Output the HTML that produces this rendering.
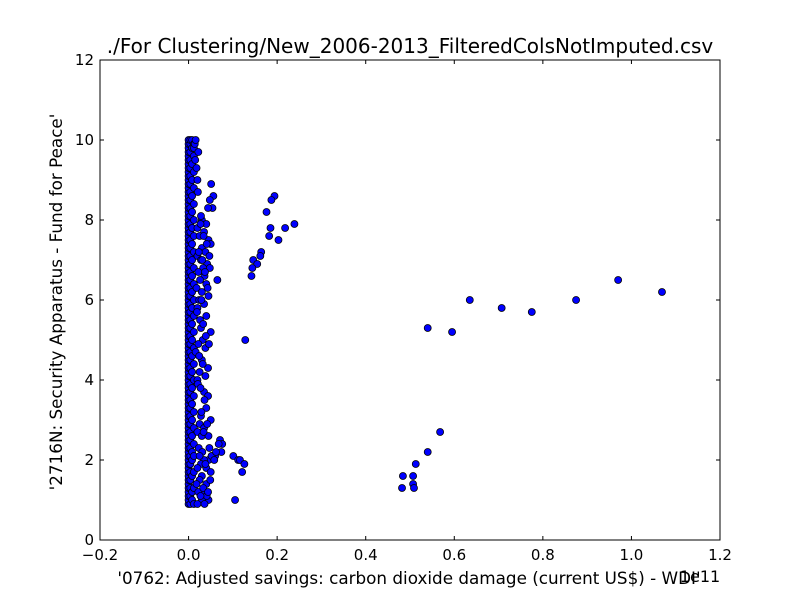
<!DOCTYPE html>
<html><head><meta charset="utf-8"><style>
body{margin:0;background:#fff;}
svg{font-family:"DejaVu Sans","Liberation Sans",sans-serif;}
</style></head><body>
<svg id="chart" width="800" height="600">
<rect width="800" height="600" fill="#fff"/>
<text x="410" y="53" text-anchor="middle" font-size="20">./For Clustering/New_2006-2013_FilteredColsNotImputed.csv</text>
<text x="409" y="584" text-anchor="middle" font-size="16.8">'0762: Adjusted savings: carbon dioxide damage  (current US$) - WDI'</text>
<text x="700" y="582" text-anchor="middle" font-size="16">1e11</text>
<text transform="translate(62,302) rotate(-90)" text-anchor="middle" font-size="16.8">'2716N: Security Apparatus - Fund for Peace'</text>
<g id="marks"></g>
<g id="axes"></g>
</svg>
<script>
const xTicks=[-0.2,0,0.2,0.4,0.6,0.8,1.0,1.2];
const xTickLabels=["\u22120.2","0.0","0.2","0.4","0.6","0.8","1.0","1.2"];
const yTicks=[0,2,4,6,8,10,12];
const yTickLabels=["0","2","4","6","8","10","12"];
const colY0=[0.9,1.0,1.1,1.2,1.3,1.4,1.5,1.6,1.7,1.8,1.9,2.0,2.1,2.2,2.3,2.4,2.5,2.6,2.7,2.8,2.9,3.0,3.1,3.2,3.3,3.4,3.5,3.6,3.7,3.8,3.9,4.0,4.1,4.2,4.3,4.4,4.5,4.6,4.7,4.8,4.9,5.0,5.1,5.2,5.3,5.4,5.5,5.6,5.7,5.8,5.9,6.0,6.1,6.2,6.3,6.4,6.5,6.6,6.7,6.8,6.9,7.0,7.1,7.2,7.3,7.4,7.5,7.6,7.7,7.8,7.9,8.0,8.1,8.2,8.3,8.4,8.5,8.6,8.7,8.8,8.9,9.0,9.1,9.2,9.3,9.4,9.5,9.6,9.7,9.8,9.9,10.0];
const colY1=[0.9,1.1,1.3,1.5,1.7,1.9,2.1,2.3,2.5,2.7,2.9,3.1,3.3,3.5,3.7,3.9,4.1,4.3,4.5,4.7,4.9,5.1,5.3,5.5,5.7,5.9,6.1,6.3,6.5,6.7,6.9,7.1,7.3,7.5,7.7,7.9,8.1,8.3,8.5,8.7,8.9,9.1,9.3,9.5,9.7,9.9,10.0];
const colY2=[1.0,1.2,1.6,2.0,2.2,2.6,3.0,3.4,3.8,4.2,4.6,5.0,5.4,5.8,6.2,6.6,7.0,7.4,7.8,8.2,8.6,9.0,9.4,9.8,10.0];
const colY3=[0.9,1.3,1.7,2.1,2.4,2.8,3.2,3.6,4.0,4.4,4.8,5.2,5.6,6.0,6.4,6.8,7.2,7.6,8.0,8.4,8.8,9.2,9.6,9.9];
const clusterX=[0.051,0.056,0.048,0.054,0.044,0.065,0.03,0.04,0.02,0.035,0.025,0.045,0.05,0.03,0.038,0.02,0.028,0.042,0.033,0.022,0.048,0.036,0.026,0.04,0.018,0.03,0.045,0.024,0.035,0.02,0.04,0.028,0.05,0.032,0.022,0.038,0.016,0.03,0.044,0.025,0.02,0.035,0.071,0.076,0.068,0.074,0.052,0.06,0.045,0.035,0.028,0.04,0.02,0.05,0.03,0.025,0.04,0.018,0.035,0.022,0.045,0.03,0.02,0.04,0.028,0.05,0.025,0.035,0.02,0.03,0.045,0.015,0.012,0.014,0.016,0.022,0.018,0.02,
0.027,0.034,0.041,0.047,0.023,0.031,0.037,0.043,0.029,0.019,0.026,0.033,0.039,0.046,0.024,0.032,0.038,0.021,0.027,0.044,0.036,0.029,0.042,0.034,0.023,0.047,0.031,0.025,0.038,0.052,0.058,0.062,0.033,0.041,0.027,0.036,0.044,0.049,0.021,0.028];
const clusterY=[8.9,8.6,8.5,8.3,8.3,6.5,8.0,7.9,7.8,7.7,7.6,7.5,7.4,7.3,7.2,7.1,7.0,6.9,6.8,6.7,6.8,6.6,6.5,6.4,6.3,6.2,6.1,6.0,5.9,5.8,5.6,5.3,5.2,5.0,4.9,4.8,4.7,4.5,4.3,4.2,4.0,3.7,2.5,2.4,2.4,2.2,2.1,2.1,2.0,2.0,1.9,1.8,1.8,1.7,1.6,1.5,1.4,1.4,1.2,1.2,1.0,1.0,0.9,3.3,3.1,3.0,2.9,2.8,2.7,2.6,2.6,9.5,9.8,9.9,10.0,9.7,9.3,9.0,
7.9,7.6,7.4,7.1,7.2,7.0,6.7,6.3,6.0,5.7,5.5,5.4,5.1,4.9,4.6,4.4,4.1,3.9,3.8,3.6,3.5,3.2,2.9,2.7,2.3,2.3,2.2,2.1,1.9,2.1,2.0,2.2,1.3,1.1,1.1,0.9,1.2,1.5,8.7,8.1];
const outX=[0.194,0.187,0.176,0.185,0.218,0.239,0.182,0.203,0.164,0.162,0.146,0.155,0.144,0.142,0.128,0.101,0.112,0.116,0.126,0.121,0.105,0.482,0.484,0.507,0.507,0.509,0.513,0.54,0.568,0.54,0.595,0.635,0.707,0.775,0.875,0.97,1.069];
const outY=[8.6,8.5,8.2,7.8,7.8,7.9,7.6,7.5,7.2,7.1,7.0,6.9,6.8,6.6,5.0,2.1,2.0,2.0,1.9,1.7,1.0,1.3,1.6,1.6,1.4,1.3,1.9,2.2,2.7,5.3,5.2,6.0,5.8,5.7,6.0,6.5,6.2];
const L=100,R=720,T=60,B=540,xMin=-0.2,xMax=1.2,yMin=0,yMax=12;
const sx=v=>L+(v-xMin)/(xMax-xMin)*(R-L);
const sy=v=>B-(v-yMin)/(yMax-yMin)*(B-T);
const NS="http://www.w3.org/2000/svg";
const marks=document.getElementById('marks'),axes=document.getElementById('axes');
function dot(x,y){const c=document.createElementNS(NS,'circle');
c.setAttribute('cx',sx(x));c.setAttribute('cy',sy(y));c.setAttribute('r',3.5);
c.setAttribute('fill','#0000ff');c.setAttribute('stroke','#000');c.setAttribute('stroke-width','0.8');


marks.appendChild(c);}
colY0.forEach(y=>dot(0.0,y));
colY1.forEach(y=>dot(0.004,y));
colY2.forEach(y=>dot(0.008,y));
colY3.forEach(y=>dot(0.012,y));
clusterX.forEach((x,i)=>dot(x,clusterY[i]));
outX.forEach((x,i)=>dot(x,outY[i]));
function el(t,a){const e=document.createElementNS(NS,t);for(const k in a)e.setAttribute(k,a[k]);axes.appendChild(e);return e;}
const fr=el('rect',{x:L,y:T,width:R-L,height:B-T,fill:'none',stroke:'#000','stroke-width':1});


xTicks.forEach((v,i)=>{const x=sx(v);
el('line',{x1:x,x2:x,y1:B,y2:B-4,stroke:'#000'});el('line',{x1:x,x2:x,y1:T,y2:T+4,stroke:'#000'});
const t=el('text',{x:x,y:B+20,'text-anchor':'middle','font-size':15});t.textContent=xTickLabels[i];

});
yTicks.forEach((v,i)=>{const y=sy(v);
el('line',{x1:L,x2:L+4,y1:y,y2:y,stroke:'#000'});el('line',{x1:R,x2:R-4,y1:y,y2:y,stroke:'#000'});
const t=el('text',{x:L-6,y:y+5,'text-anchor':'end','font-size':15});t.textContent=yTickLabels[i];

});
</script>
</body></html>
